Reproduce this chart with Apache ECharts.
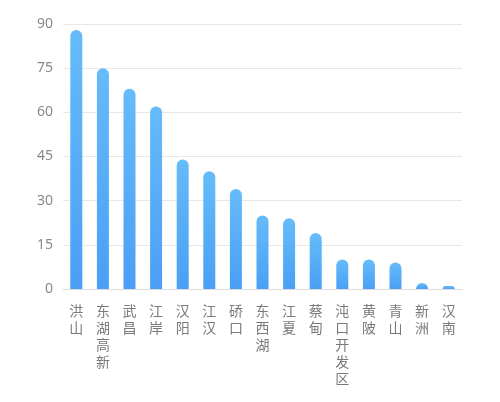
<!DOCTYPE html>
<html><head><meta charset="utf-8">
<script src="https://cdn.jsdelivr.net/npm/echarts@6/dist/echarts.min.js"></script>
<style>html,body{margin:0;padding:0;background:#fff}#c{width:500px;height:402px}</style>
</head><body><div id="c"></div>
<script>
const categories = ['洪山','东湖高新','武昌','江岸','汉阳','江汉','硚口','东西湖','江夏','蔡甸','沌口开发区','黄陂','青山','新洲','汉南'];
const values = [88, 75, 68, 62, 44, 40, 34, 25, 24, 19, 10, 10, 9, 2, 1];
const yTicks = [0, 15, 30, 45, 60, 75, 90];

const chart = echarts.init(document.getElementById('c'));
chart.setOption({
  animation: false,
  grid: { left: 63, right: 38, top: 24, bottom: 113 },
  xAxis: {
    type: 'category',
    data: categories,
    axisLine: { lineStyle: { color: '#dddddd' } },
    axisTick: { show: false },
    axisLabel: {
      interval: 0,
      color: '#7a7a7a',
      fontSize: 14,
      lineHeight: 17,
      margin: 13,
      fontFamily: 'Noto Sans CJK SC',
      formatter: v => v.split('').join('\n')
    }
  },
  yAxis: {
    type: 'value',
    min: yTicks[0],
    max: yTicks[yTicks.length - 1],
    interval: 15,
    axisLine: { show: false },
    axisTick: { show: false },
    splitLine: { lineStyle: { color: '#e8e8e8' } },
    axisLabel: { color: '#888888', fontSize: 14, margin: 10, fontFamily: 'Noto Sans' }
  },
  series: [{
    type: 'bar',
    data: values,
    barWidth: 12,
    itemStyle: {
      borderRadius: [6, 6, 0, 0],
      color: new echarts.graphic.LinearGradient(0, 0, 0, 1, [
        { offset: 0, color: '#66bbfa' },
        { offset: 1, color: '#4a9ff5' }
      ])
    }
  }]
});
</script></body></html>
